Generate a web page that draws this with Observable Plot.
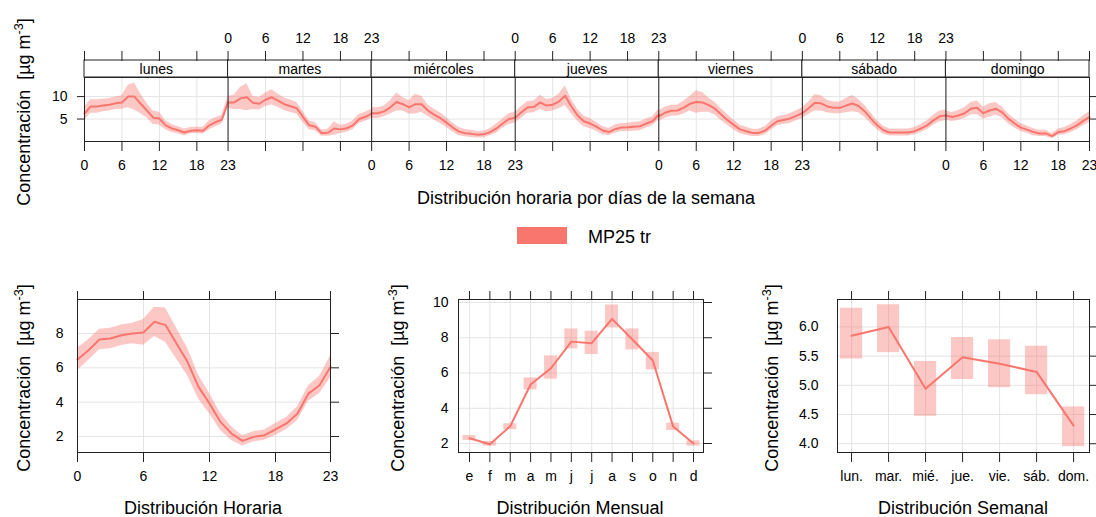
<!DOCTYPE html>
<html>
<head>
<meta charset="utf-8">
<script src="https://cdn.jsdelivr.net/npm/d3@7"></script>
<script src="https://cdn.jsdelivr.net/npm/@observablehq/plot@0.6"></script>
<style>
  body { margin: 0; background: #fff; }
  #chart { position: relative; width: 1096px; height: 517px; overflow: hidden; background: #fff;
           font-family: "Liberation Sans", Arial, sans-serif; color: #000; }
  #chart svg { position: absolute; left: 0; top: 0; background: none; max-width: none; overflow: visible;
               font: 14px "Liberation Sans", Arial, sans-serif; color: #000; }
  #chart svg text { font-family: "Liberation Sans", Arial, sans-serif; }
  .lbl { position: absolute; white-space: pre; line-height: 1; }
  .lbl sup { font-size: 0.7em; line-height: 0; vertical-align: 0.55em; }
</style>
</head>
<body>
<div id="chart"></div>
<script>
// ---- Datos: MP25 tr ----
const contaminante = "MP25 tr";
const dias = ["lunes", "martes", "miércoles", "jueves", "viernes", "sábado", "domingo"];
const horasEje = [0, 6, 12, 18, 23];

// Media horaria por día de la semana (µg m-3) y semiancho del intervalo de confianza
const mediaLunes     = [6.2, 7.8, 7.8, 8.0, 8.2, 8.5, 8.7, 10.0, 10.0, 8.4, 6.9, 5.3, 5.1, 3.6, 2.9, 2.5, 2.0, 2.4, 2.5, 2.4, 3.6, 4.3, 4.85, 8.75];
const mediaMartes    = [8.7, 8.7, 9.6, 9.85, 8.6, 8.4, 9.3, 9.85, 9.1, 8.3, 7.85, 7.4, 5.5, 3.6, 3.3, 1.85, 1.95, 2.9, 2.7, 2.95, 3.6, 5.0, 5.5, 6.2];
const mediaMiercoles = [6.3, 6.3, 6.7, 7.6, 8.8, 8.3, 7.6, 8.3, 8.3, 6.9, 6.0, 5.2, 4.2, 3.1, 2.2, 1.85, 1.7, 1.5, 1.6, 2.1, 2.9, 4.0, 5.0, 5.3];
const mediaJueves    = [5.3, 6.5, 7.6, 7.7, 8.7, 8.0, 8.2, 8.9, 10.2, 7.8, 5.8, 4.5, 4.0, 3.3, 2.45, 2.1, 2.75, 3.1, 3.15, 3.3, 3.4, 4.0, 4.5, 6.0];
const mediaViernes   = [5.6, 6.4, 6.85, 6.9, 7.55, 8.4, 8.8, 8.7, 8.1, 7.3, 6.0, 4.8, 3.7, 2.7, 2.3, 1.9, 1.9, 2.4, 3.5, 4.5, 4.8, 5.1, 5.7, 6.3];
const mediaSabado    = [6.3, 7.4, 8.6, 8.5, 7.8, 7.5, 7.5, 8.0, 8.45, 7.9, 6.7, 5.1, 3.6, 2.5, 2.0, 2.0, 2.0, 2.0, 2.3, 2.9, 3.6, 4.7, 5.6, 5.8];
const mediaDomingo   = [5.8, 5.45, 5.8, 6.3, 7.3, 7.5, 6.3, 6.9, 7.3, 6.5, 5.1, 4.0, 3.1, 2.65, 2.1, 1.8, 1.8, 1.2, 2.1, 2.3, 2.9, 3.6, 4.6, 5.45];

const icLunes     = [1.5, 1.5, 1.5, 1.4, 1.4, 1.4, 1.5, 2.5, 3.0, 2.2, 1.6, 1.5, 1.4, 1.0, 0.9, 0.8, 0.8, 0.7, 0.7, 0.8, 1.0, 1.0, 1.0, 1.2];
const icMartes    = [1.3, 1.6, 2.5, 3.0, 1.5, 1.4, 1.5, 1.7, 1.5, 1.4, 1.4, 1.3, 1.2, 1.0, 0.9, 0.7, 0.8, 1.5, 0.9, 0.9, 1.0, 1.0, 1.0, 1.0];
const icMiercoles = [1.2, 1.2, 1.2, 1.5, 2.0, 1.5, 1.5, 2.2, 1.8, 1.3, 1.2, 1.2, 1.1, 1.0, 0.9, 0.8, 0.8, 0.7, 0.7, 0.8, 1.0, 1.0, 1.2, 1.2];
const icJueves    = [1.2, 1.3, 1.3, 1.3, 1.6, 1.4, 1.4, 1.6, 2.2, 1.6, 1.3, 1.2, 1.1, 1.0, 0.9, 0.8, 0.9, 0.9, 0.9, 1.0, 1.0, 1.0, 1.0, 1.2];
const icViernes   = [1.2, 1.2, 1.2, 1.2, 1.4, 1.6, 2.5, 2.2, 1.6, 1.4, 1.3, 1.2, 1.1, 1.0, 0.9, 0.8, 0.8, 0.9, 1.0, 1.0, 1.0, 1.1, 1.1, 1.2];
const icSabado    = [1.2, 1.4, 1.8, 1.7, 1.4, 1.3, 1.3, 1.6, 1.8, 1.5, 1.3, 1.2, 1.0, 0.9, 0.8, 0.8, 0.8, 0.8, 0.8, 0.9, 1.0, 1.1, 1.2, 1.2];
const icDomingo   = [1.0, 1.0, 1.1, 1.2, 1.4, 1.5, 1.3, 1.5, 1.4, 1.2, 1.1, 1.0, 0.9, 0.8, 0.8, 0.7, 0.7, 0.6, 0.7, 0.8, 0.9, 1.0, 1.1, 1.2];

// Distribución horaria (todas las fechas)
const mediaHora = [6.49, 7.03, 7.65, 7.71, 7.9, 8.0, 8.06, 8.68, 8.49, 7.42, 6.35, 4.89, 3.92, 2.85, 2.17, 1.75, 1.98, 2.08, 2.41, 2.76, 3.34, 4.5, 4.99, 6.06];
const icHora    = [0.65, 0.6, 0.6, 0.6, 0.6, 0.6, 0.75, 0.85, 1.0, 0.9, 0.8, 0.7, 0.6, 0.5, 0.4, 0.3, 0.3, 0.3, 0.35, 0.35, 0.4, 0.45, 0.5, 0.65];

// Distribución mensual
const meses    = ["e", "f", "m", "a", "m", "j", "j", "a", "s", "o", "n", "d"];
const mediaMes = [2.3, 1.96, 2.98, 5.35, 6.27, 7.78, 7.69, 9.07, 7.9, 6.71, 2.96, 2.0];
const bajoMes  = [2.17, 1.85, 2.79, 5.04, 5.65, 7.37, 7.05, 8.56, 7.31, 6.18, 2.74, 1.85];
const altoMes  = [2.45, 2.11, 3.12, 5.72, 6.97, 8.5, 8.37, 9.86, 8.5, 7.16, 3.15, 2.15];

// Distribución semanal
const diasCortos   = ["lun.", "mar.", "mié.", "jue.", "vie.", "sáb.", "dom."];
const mediaSemana  = [5.85, 6.0, 4.94, 5.48, 5.37, 5.23, 4.31];
const bajoSemana   = [5.45, 5.56, 4.47, 5.10, 4.96, 4.84, 3.95];
const altoSemana   = [6.32, 6.38, 5.41, 5.82, 5.78, 5.67, 4.63];

// ---- Tablas para Plot ----
const medias = [mediaLunes, mediaMartes, mediaMiercoles, mediaJueves, mediaViernes, mediaSabado, mediaDomingo];
const ics = [icLunes, icMartes, icMiercoles, icJueves, icViernes, icSabado, icDomingo];
const filasDia = dias.flatMap((dia, i) =>
  medias[i].map((v, h) => ({dia, pos: i * 23 + h, v, lo: v - ics[i][h], hi: v + ics[i][h]})));
const filasHora = mediaHora.map((v, h) => ({h, v, lo: v - icHora[h], hi: v + icHora[h]}));
const filasMes = mediaMes.map((v, i) => ({i, v, lo: bajoMes[i], hi: altoMes[i]}));
const filasSemana = mediaSemana.map((v, i) => ({i, v, lo: bajoSemana[i], hi: altoSemana[i]}));

const COLOR = "#F8766D";
const GRID = "#e4e4e4";
const EJE = "#222";
const chart = document.getElementById("chart");

function capa(opts) {
  const svg = Plot.plot({width: 1096, height: 517, ...opts});
  chart.append(svg);
}

// Posiciones de las marcas del eje de días (0, 6, 12, 18, 23 de cada día)
const posEje = Array.from(new Set(dias.flatMap((d, i) => horasEje.map(h => i * 23 + h))));
const posGrid = dias.flatMap((d, i) => [0, 6, 12, 18].map(h => i * 23 + h));
const separadores = dias.slice(1).map((d, i) => (i + 1) * 23);
function rotulo(p, conjunto) {
  for (const i of conjunto) {
    const h = p - i * 23;
    if (horasEje.includes(h)) return String(h);
  }
  return "";
}
const diasAbajo = [0, 2, 4, 6], diasArriba = [1, 3, 5];
const xDias = {domain: [0, 161], label: null, axis: null};

// Tiras con los nombres de los días y eje superior
capa({
  marginLeft: 84, marginRight: 7, marginTop: 60, marginBottom: 517 - 77,
  x: xDias, y: {domain: [0, 1], axis: null},
  marks: [
    Plot.rect(dias, {x1: (d, i) => i * 23, x2: (d, i) => (i + 1) * 23, y1: 0, y2: 1, fill: "white", stroke: EJE}),
    Plot.text(dias, {x: (d, i) => i * 23 + 11.5, y: 0.5, text: d => d, fontSize: 14, dy: 1}),
    Plot.axisX({anchor: "top", ticks: posEje, tickSize: 10, tickPadding: 8, stroke: EJE,
                tickFormat: p => rotulo(p, diasArriba), label: null})
  ]
});

// Panel de días de la semana
capa({
  marginLeft: 84, marginRight: 7, marginTop: 77, marginBottom: 517 - 141,
  x: xDias, y: {domain: [0, 14.25], axis: null},
  marks: [
    Plot.gridX(posGrid, {stroke: GRID, strokeOpacity: 1}),
    Plot.gridY([5, 10], {stroke: GRID, strokeOpacity: 1}),
    Plot.areaY(filasDia, {x: "pos", y1: "lo", y2: "hi", z: "dia", fill: COLOR, fillOpacity: 0.4}),
    Plot.lineY(filasDia, {x: "pos", y: "v", z: "dia", stroke: COLOR, strokeWidth: 2}),
    Plot.ruleX(separadores, {stroke: EJE}),
    Plot.frame({stroke: EJE}),
    Plot.axisX({anchor: "bottom", ticks: posEje, tickSize: 10, tickPadding: 9, stroke: EJE,
                tickFormat: p => rotulo(p, diasAbajo), label: null}),
    Plot.axisY({anchor: "left", ticks: [5, 10], tickSize: 7, tickPadding: 10, stroke: EJE, label: null}),
    Plot.axisY({anchor: "right", ticks: [5, 10], tickSize: 7, tickFormat: () => "", stroke: EJE, label: null})
  ]
});

// Panel inferior: distribución horaria
capa({
  marginLeft: 77, marginRight: 1096 - 330, marginTop: 299, marginBottom: 517 - 452,
  x: {domain: [0, 23], axis: null, label: null}, y: {domain: [1.07, 9.98], axis: null, label: null},
  marks: [
    Plot.gridX(horasEje, {stroke: GRID, strokeOpacity: 1}),
    Plot.gridY([2, 4, 6, 8], {stroke: GRID, strokeOpacity: 1}),
    Plot.areaY(filasHora, {x: "h", y1: "lo", y2: "hi", fill: COLOR, fillOpacity: 0.4}),
    Plot.lineY(filasHora, {x: "h", y: "v", stroke: COLOR, strokeWidth: 2}),
    Plot.frame({stroke: EJE}),
    Plot.axisX({anchor: "bottom", ticks: horasEje, tickSize: 10, tickPadding: 9, stroke: EJE, label: null}),
    Plot.axisX({anchor: "top", ticks: horasEje, tickSize: 9, tickFormat: () => "", stroke: EJE, label: null}),
    Plot.axisY({anchor: "left", ticks: [2, 4, 6, 8], tickSize: 0, tickPadding: 14, label: null}),
    Plot.axisY({anchor: "right", ticks: [2, 4, 6, 8], tickSize: 8, tickFormat: () => "", stroke: EJE, label: null})
  ]
});

// Panel inferior: distribución mensual
const idxMes = meses.map((m, i) => i);
capa({
  marginLeft: 458, marginRight: 1096 - 703, marginTop: 299, marginBottom: 517 - 452,
  x: {domain: [-0.54, 11.49], axis: null, label: null}, y: {domain: [1.49, 10.17], axis: null, label: null},
  marks: [
    Plot.gridX(idxMes, {stroke: GRID, strokeOpacity: 1}),
    Plot.gridY([2, 4, 6, 8, 10], {stroke: GRID, strokeOpacity: 1}),
    Plot.rect(filasMes, {x1: d => d.i - 0.32, x2: d => d.i + 0.32, y1: "lo", y2: "hi", fill: COLOR, fillOpacity: 0.4}),
    Plot.line(filasMes, {x: "i", y: "v", stroke: COLOR, strokeWidth: 2}),
    Plot.frame({stroke: EJE}),
    Plot.axisX({anchor: "bottom", ticks: idxMes, tickSize: 10, tickPadding: 9, stroke: EJE,
                tickFormat: i => meses[i], label: null}),
    Plot.axisX({anchor: "top", ticks: idxMes, tickSize: 9, tickFormat: () => "", stroke: EJE, label: null}),
    Plot.axisY({anchor: "left", ticks: [2, 4, 6, 8, 10], tickSize: 0, tickPadding: 10, label: null}),
    Plot.axisY({anchor: "right", ticks: [2, 4, 6, 8, 10], tickSize: 8, tickFormat: () => "", stroke: EJE, label: null})
  ]
});

// Panel inferior: distribución semanal
const idxSem = diasCortos.map((d, i) => i);
const ticksSem = [4, 4.5, 5, 5.5, 6];
capa({
  marginLeft: 837, marginRight: 1096 - 1089, marginTop: 299, marginBottom: 517 - 452,
  x: {domain: [-0.38, 6.43], axis: null, label: null}, y: {domain: [3.85, 6.47], axis: null, label: null},
  marks: [
    Plot.gridX(idxSem, {stroke: GRID, strokeOpacity: 1}),
    Plot.gridY(ticksSem, {stroke: GRID, strokeOpacity: 1}),
    Plot.rect(filasSemana, {x1: d => d.i - 0.3, x2: d => d.i + 0.3, y1: "lo", y2: "hi", fill: COLOR, fillOpacity: 0.4}),
    Plot.line(filasSemana, {x: "i", y: "v", stroke: COLOR, strokeWidth: 2}),
    Plot.frame({stroke: EJE}),
    Plot.axisX({anchor: "bottom", ticks: idxSem, tickSize: 10, tickPadding: 9, stroke: EJE,
                tickFormat: i => diasCortos[i], label: null}),
    Plot.axisX({anchor: "top", ticks: idxSem, tickSize: 9, tickFormat: () => "", stroke: EJE, label: null}),
    Plot.axisY({anchor: "left", ticks: ticksSem, tickSize: 0, tickPadding: 19, tickFormat: d3.format(".1f"), label: null}),
    Plot.axisY({anchor: "right", ticks: ticksSem, tickSize: 7, tickFormat: () => "", stroke: EJE, label: null})
  ]
});

// ---- Títulos de ejes y leyenda ----
function texto(html, x, y, rot = false, size = 18) {
  const div = document.createElement("div");
  div.className = "lbl";
  div.innerHTML = html;
  div.style.left = x + "px";
  div.style.top = y + "px";
  div.style.fontSize = size + "px";
  div.style.transform = "translate(-50%, -50%)" + (rot ? " rotate(-90deg)" : "");
  chart.append(div);
}
const etiquetaY = "Concentración  [µg m<sup>-3</sup>]";
texto(etiquetaY, 24, 112, true);
texto(etiquetaY, 24, 378, true);
texto(etiquetaY, 398, 378, true);
texto(etiquetaY, 772, 378, true);
texto("Distribución horaria por días de la semana", 586, 198);
texto("Distribución Horaria", 203, 508);
texto("Distribución Mensual", 580, 508);
texto("Distribución Semanal", 963, 508);

const muestra = document.createElement("div");
muestra.style.cssText = `position:absolute;left:517px;top:227px;width:50px;height:17px;background:${COLOR};`;
chart.append(muestra);
const leyenda = document.createElement("div");
leyenda.className = "lbl";
leyenda.textContent = contaminante;
leyenda.style.cssText += "left:588px;top:237px;font-size:18px;transform:translate(0,-50%);";
chart.append(leyenda);
</script>
</body>
</html>
